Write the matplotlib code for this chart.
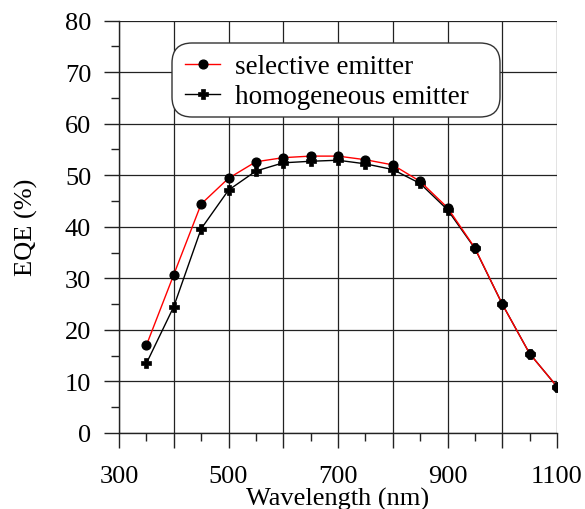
import matplotlib
matplotlib.use("Agg")
import matplotlib.pyplot as plt
from matplotlib.ticker import MultipleLocator
from matplotlib.patches import FancyBboxPatch

wavelength = [350, 400, 450, 500, 550, 600, 650, 700, 750, 800, 850, 900, 950, 1000, 1050, 1100]
selective = [17.0, 30.7, 44.4, 49.4, 52.6, 53.4, 53.7, 53.7, 53.0, 52.0, 48.8, 43.7, 35.9, 25.0, 15.4, 9.0]
homogeneous = [13.5, 24.5, 39.6, 47.1, 50.8, 52.4, 52.7, 52.9, 52.2, 51.1, 48.4, 43.3, 35.8, 25.0, 15.4, 9.0]
x_ticks = [300, 400, 500, 600, 700, 800, 900, 1000, 1100]
x_ticklabels = ["300", "", "500", "", "700", "", "900", "", "1100"]

plt.rcParams['font.family'] = ['Liberation Serif', 'DejaVu Serif']
plt.rcParams['font.size'] = 19

W, H = 585, 510
fig = plt.figure(figsize=(W/100, H/100), dpi=100)
ax = fig.add_axes([119/W, 1-434/H, (557-119)/W, (434-21.5)/H])

ax.plot(wavelength, homogeneous, color='black', lw=1.0, marker='P', ms=6.5,
        mfc='black', mec='black', mew=0.5, label='homogeneous emitter', zorder=3)
ax.plot(wavelength, selective, color='red', lw=1.0, marker='o', ms=6.3,
        mfc='black', mec='black', label='selective emitter', zorder=4)

ax.set_xlim(300, 1100)
ax.set_ylim(0, 80)
ax.yaxis.set_major_locator(MultipleLocator(10))
ax.yaxis.set_minor_locator(MultipleLocator(5))
ax.set_xticks(x_ticks)
ax.set_xticklabels(x_ticklabels)
ax.xaxis.set_minor_locator(MultipleLocator(50))

ax.grid(True, which='major', color='#222222', lw=0.9)
ax.set_axisbelow(True)
for s in ['top', 'right']:
    ax.spines[s].set_visible(False)
for s in ['left', 'bottom']:
    ax.spines[s].set_linewidth(1.0)
    ax.spines[s].set_color('#222222')
ax.tick_params(which='major', direction='out', length=11, width=1.0, color='#222222')
ax.tick_params(which='minor', direction='out', length=6, width=1.0, color='#222222')
ax.tick_params(axis='y', which='major', pad=9)
ax.tick_params(axis='x', which='major', pad=12)

ax.set_xlabel('Wavelength (nm)', labelpad=0)
ax.set_ylabel('EQE (%)', labelpad=19)

# legend frame (rounded box)
r = 20
box = FancyBboxPatch(((172 + r)/W, 1-(118 - r)/H), (500-172-2*r)/W, (118-44-2*r)/H,
                     boxstyle=f"round,pad={r/W},rounding_size={r/W}",
                     transform=fig.transFigure, facecolor='white',
                     edgecolor='#333333', lw=1.0, zorder=5, mutation_aspect=W/H)
fig.add_artist(box)

handles, labels = ax.get_legend_handles_labels()
leg = fig.legend(handles[::-1], labels[::-1], loc='upper left',
                 bbox_to_anchor=(185/W, 1-55/H), bbox_transform=fig.transFigure,
                 frameon=False, handlelength=1.3, handletextpad=0.55,
                 labelspacing=0.2, borderpad=0, fontsize=19.5, borderaxespad=0)
leg.set_zorder(6)

fig.savefig('out.png', dpi=100)
